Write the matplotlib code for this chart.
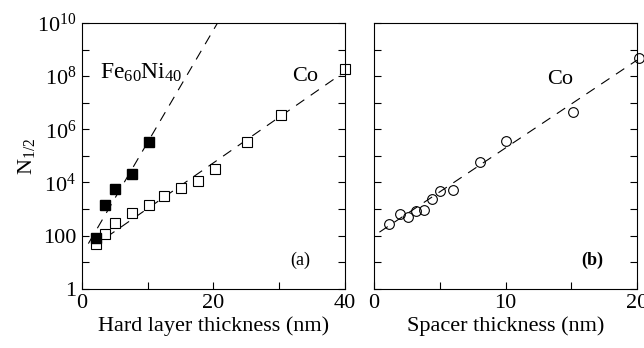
import numpy as np
import matplotlib
matplotlib.use("Agg")
import matplotlib.pyplot as plt
from matplotlib.ticker import FixedLocator, FixedFormatter, NullLocator

plt.rcParams['font.family'] = ['Liberation Serif', 'DejaVu Serif']
plt.rcParams['mathtext.fontset'] = 'custom'
plt.rcParams['mathtext.rm'] = 'Liberation Serif'
plt.rcParams['mathtext.it'] = 'Liberation Serif:italic'

# panel (a): hard layer thickness
feni_x = [2.1, 3.6, 5.1, 7.6, 10.2]
feni_y = [83, 1480, 5900, 20400, 3.2e5]
co_x = [2.1, 3.6, 5.1, 7.6, 10.2, 12.5, 15.1, 17.7, 20.2, 25.1, 30.2, 40.0]
co_y = [48, 114, 310, 740, 1400, 3150, 6300, 11800, 33000, 3.2e5, 3.4e6, 1.9e8]
# fits: log10(N) = a + b*x, drawn from x0 to x1
feni_fit = (1.28, 0.423, 1.0, 20.6)
co_fit = (1.30, 0.172, 1.5, 40.0)

# panel (b): spacer thickness
sp_x = [1.14, 1.93, 2.56, 3.17, 3.78, 4.39, 5.0, 6.0, 8.04, 10.0, 15.1, 20.15]
sp_y = [270, 660, 525, 880, 960, 2350, 4700, 5250, 5.8e4, 3.6e5, 4.4e6, 5e8]
sp_fit = (2.0, 0.33, 0.4, 20.0)

yticks = [1, 10, 100, 1e3, 1e4, 1e5, 1e6, 1e7, 1e8, 1e9, 1e10]
ylabels = ['1', '', '100', '', r'$10^4$', '', r'$10^6$', '', r'$10^8$', '', r'$10^{10}$']

fig = plt.figure(figsize=(6.44, 3.48), dpi=100)
ax1 = fig.add_axes([0.127, 0.170, 0.409, 0.764])
ax2 = fig.add_axes([0.581, 0.170, 0.408, 0.764])

dash = (0, (9, 7))

def fit_line(ax, fit):
    a, b, x0, x1 = fit
    xs = np.array([x0, x1])
    ax.plot(xs, 10 ** (a + b * xs), color='black', lw=0.8, linestyle=dash)

fit_line(ax1, feni_fit)
fit_line(ax1, co_fit)
ax1.plot(co_x, co_y, 's', ms=6.5, mfc='white', mec='black', mew=0.8, clip_on=False)
ax1.plot(feni_x, feni_y, 's', ms=7.5, mfc='black', mec='black', clip_on=False)

fit_line(ax2, sp_fit)
ax2.plot(sp_x, sp_y, 'o', ms=7, mfc='none', mec='black', mew=0.8, clip_on=False)

for ax in (ax1, ax2):
    ax.set_yscale('log')
    ax.set_ylim(1, 1e10)
    ax.yaxis.set_major_locator(FixedLocator(yticks))
    ax.yaxis.set_minor_locator(NullLocator())
    ax.tick_params(direction='in', length=5, width=0.8, labelsize=16,
                   right=True, top=False, pad=4)
    for s in ax.spines.values():
        s.set_linewidth(0.8)

ax1.yaxis.set_major_formatter(FixedFormatter(ylabels))
ax2.set_yticklabels([])

ax1.set_xlim(0, 40)
ax1.set_xticks([0, 10, 20, 30, 40])
ax1.set_xticklabels(['0', '', '20', '', '40'])
ax2.set_xlim(0, 20)
ax2.set_xticks([0, 5, 10, 15, 20])
ax2.set_xticklabels(['0', '', '10', '', '20'])

ax1.set_xlabel('Hard layer thickness (nm)', fontsize=16, labelpad=2)
ax2.set_xlabel('Spacer thickness (nm)', fontsize=16, labelpad=2)
ax1.set_ylabel(r'N$_{1/2}$', fontsize=16, labelpad=0)

ax1.text(0.07, 0.79, r'Fe$_{60}$Ni$_{40}$', transform=ax1.transAxes, fontsize=17)
ax1.text(0.80, 0.78, 'Co', transform=ax1.transAxes, fontsize=16)
ax1.text(0.79, 0.09, '(a)', transform=ax1.transAxes, fontsize=13)
ax2.text(0.66, 0.77, 'Co', transform=ax2.transAxes, fontsize=16)
ax2.text(0.79, 0.09, '(b)', transform=ax2.transAxes, fontsize=13, fontweight='bold')

fig.savefig('out.png', dpi=100)
